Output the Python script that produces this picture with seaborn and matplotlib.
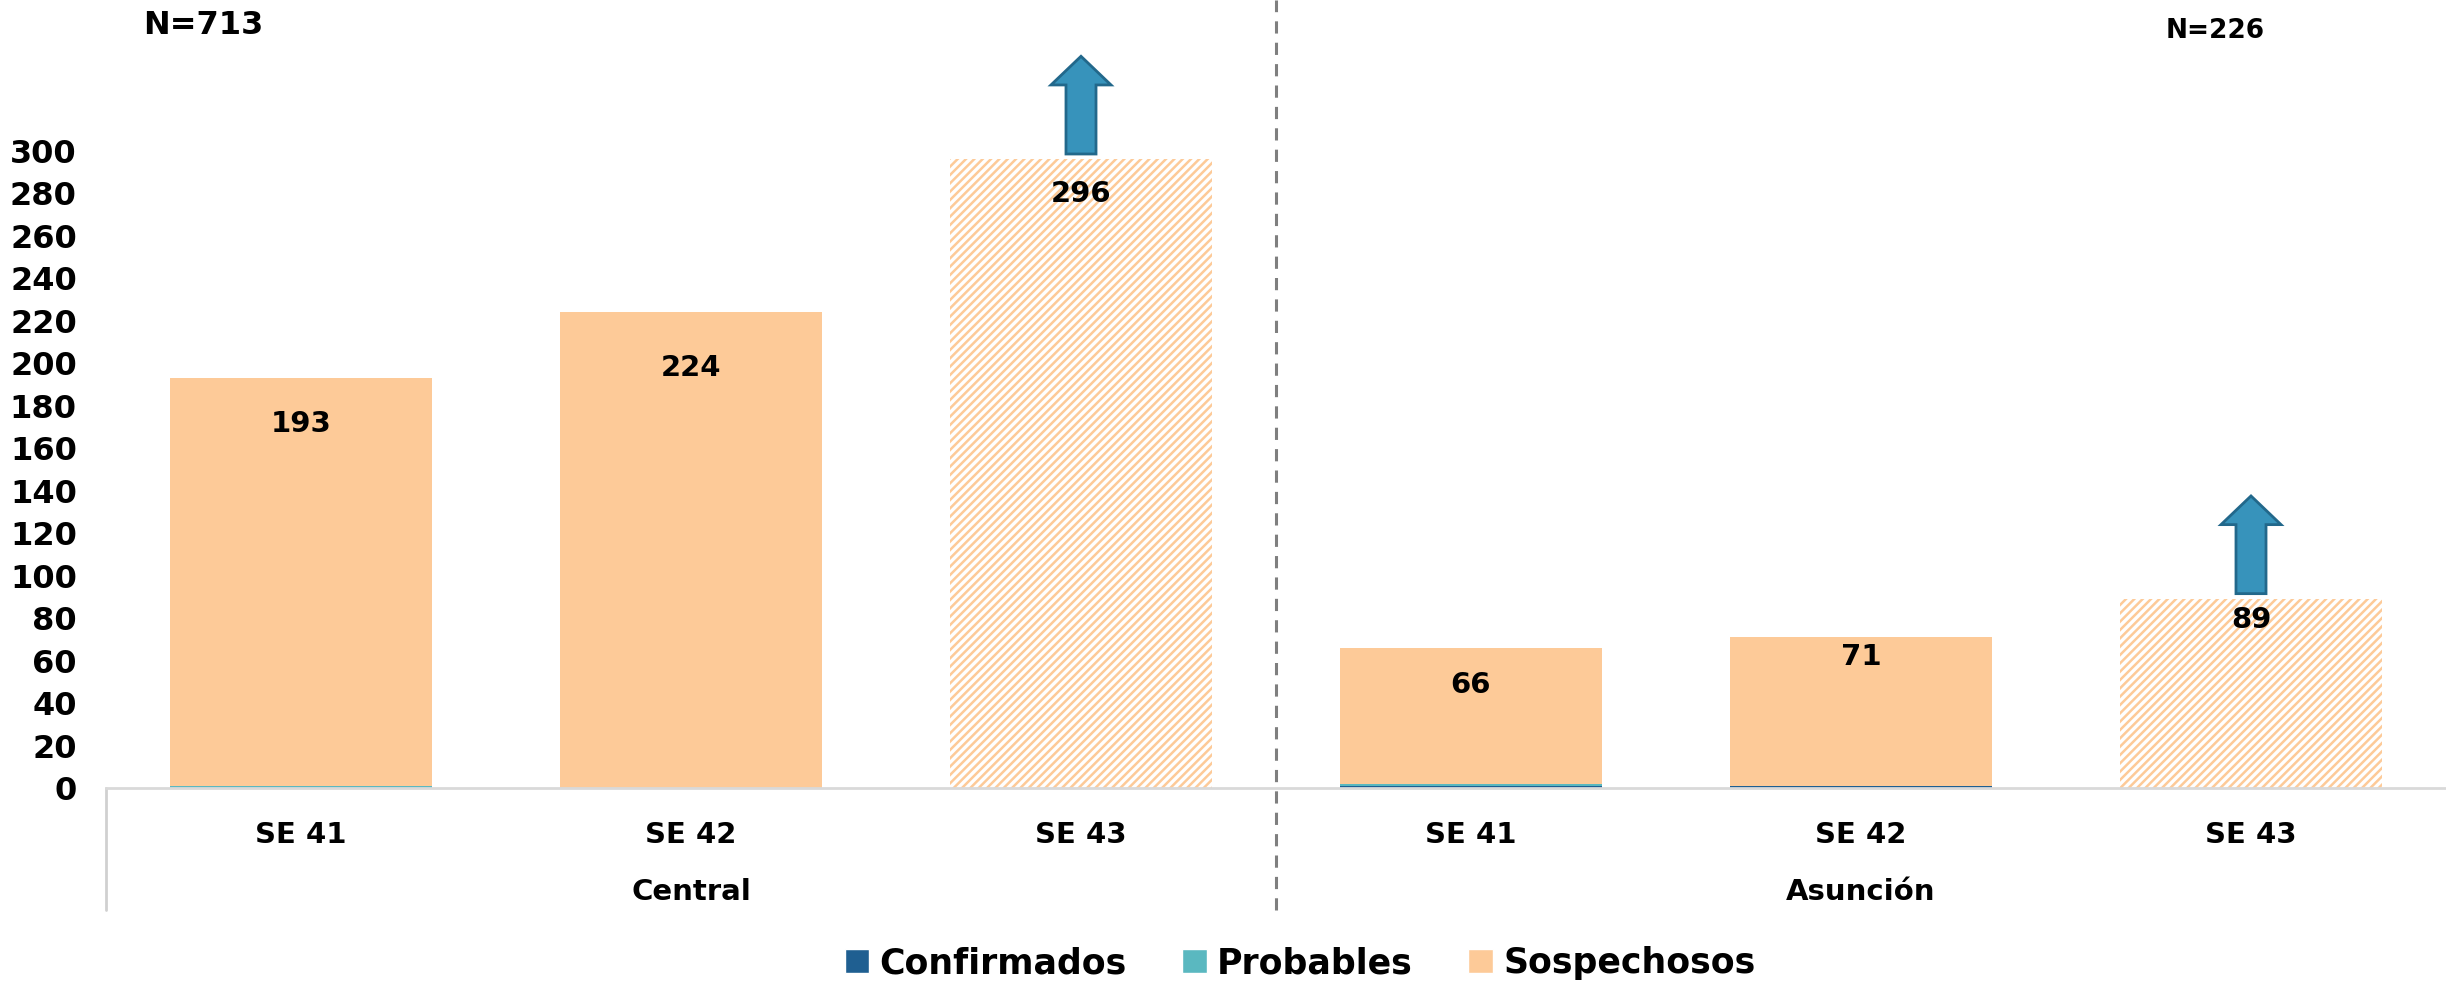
import numpy as np
import pandas as pd
import matplotlib
matplotlib.use('Agg')
import matplotlib.pyplot as plt
import seaborn as sns
from matplotlib.patches import Patch, FancyArrow
from matplotlib.transforms import blended_transform_factory

# Daten
grupos = ['Central', 'Central', 'Central', 'Asunción', 'Asunción', 'Asunción']
semanas = ['SE 41', 'SE 42', 'SE 43', 'SE 41', 'SE 42', 'SE 43']
confirmados = [0, 0, 0, 1, 1, 0]
probables = [1, 0, 0, 1, 0, 0]
sospechosos = [192, 224, 296, 64, 70, 89]
totales_n = {'Central': 713, 'Asunción': 226}
y_ticks = list(range(0, 301, 20))

df = pd.DataFrame({'grupo': grupos, 'semana': semanas,
                   'conf': confirmados, 'prob': probables, 'sosp': sospechosos})
df['key'] = df['grupo'] + ' ' + df['semana']
df['total'] = df['conf'] + df['prob'] + df['sosp']
df['conf_prob'] = df['conf'] + df['prob']
orden = list(df['key'])

c_conf = '#1f5f91'
c_prob = '#5ab8c0'
c_sosp = '#fdca98'
c_arrow = '#3793bb'
c_arrow_edge = '#22688b'

# Abstand der Werte-Labels unter der Balkenoberkante (Punkte), wie im Original
label_pad = [33, 40, 25, 27, 14, 15]

sns.set_style('white')
plt.rcParams['font.family'] = ['DejaVu Sans']
plt.rcParams['font.weight'] = 'bold'
plt.rcParams['hatch.linewidth'] = 1.8
for k in ['text.color', 'axes.labelcolor', 'xtick.color', 'ytick.color']:
    plt.rcParams[k] = 'black'

fig = plt.figure(figsize=(24.46, 9.85), dpi=100)
ax = fig.add_axes([106 / 2446, 0.2, 2340 / 2446, 0.8])

# gestapelte Balken: zuerst Gesamt, dann darunterliegende Anteile
sns.barplot(data=df, x='key', y='total', order=orden, color=c_sosp,
            width=0.67, saturation=1, errorbar=None, ax=ax)
bars_total = ax.containers[-1]
sns.barplot(data=df, x='key', y='conf_prob', order=orden, color=c_prob,
            width=0.67, saturation=1, errorbar=None, ax=ax)
sns.barplot(data=df, x='key', y='conf', order=orden, color=c_conf,
            width=0.67, saturation=1, errorbar=None, ax=ax)

for p in ax.patches:
    p.set_linewidth(0)

# SE 43 schraffiert (unvollständige Woche)
for bar, sem in zip(bars_total, df['semana']):
    if sem == 'SE 43':
        bar.set_facecolor('white')
        bar.set_edgecolor(c_sosp)
        bar.set_hatch('////')
        bar.set_linewidth(0)

ax.set_xlim(-0.5, 5.5)
ax.set_ylim(0, 371)
ax.set_yticks(y_ticks)
ax.set_xticks(range(len(orden)))
ax.set_xticklabels(df['semana'])
ax.tick_params(axis='y', length=0, pad=21, labelsize=23, labelcolor='black')
ax.tick_params(axis='x', length=0, pad=24, labelsize=21, labelcolor='black')
for lab in ax.get_xticklabels() + ax.get_yticklabels():
    lab.set_fontweight('bold')
ax.set_xlabel('')
ax.set_ylabel('')
for s in ['left', 'right', 'top']:
    ax.spines[s].set_visible(False)
ax.spines['bottom'].set_color('#d9d9d9')
ax.spines['bottom'].set_linewidth(2)

# Werte-Labels
for i, tot in enumerate(df['total']):
    ax.annotate(str(tot), xy=(i, tot), xytext=(0, -label_pad[i]), textcoords='offset points',
                ha='center', va='center', fontsize=21, fontweight='bold', color='black')

# Pfeile bei SE 43
for i, (sem, tot) in enumerate(zip(df['semana'], df['total'])):
    if sem == 'SE 43':
        arr = FancyArrow(i, tot + 2.5, 0, 46, width=0.077, head_width=0.154,
                         head_length=13.5, length_includes_head=True,
                         facecolor=c_arrow, edgecolor=c_arrow_edge, linewidth=2,
                         zorder=5)
        ax.add_patch(arr)

# Trennlinien und Gruppen-Labels
ax.plot([-0.5, -0.5], [-57.5, 0], color='#d0d0d0', lw=2, clip_on=False)
ax.plot([2.5, 2.5], [-57.5, 371], color='#7f7f7f', lw=2.2, ls=(0, (4, 3)), clip_on=False)
trans = blended_transform_factory(ax.transData, fig.transFigure)
ax.text(1, (985 - 892) / 985, 'Central', transform=trans, ha='center', va='center',
        fontsize=21, fontweight='bold', color='black')
ax.text(4, (985 - 892) / 985, 'Asunción', transform=trans, ha='center', va='center',
        fontsize=21, fontweight='bold', color='black')

fig.text(203 / 2446, 1 - 25 / 985, f"N={totales_n['Central']}", ha='center', va='center',
         fontsize=23, fontweight='bold', color='black')
fig.text(2215 / 2446, 1 - 31 / 985, f"N={totales_n['Asunción']}", ha='center', va='center',
         fontsize=19, fontweight='bold', color='black')

# Legende
handles = [Patch(facecolor=c_conf, label='Confirmados'),
           Patch(facecolor=c_prob, label='Probables'),
           Patch(facecolor=c_sosp, label='Sospechosos')]
leg = fig.legend(handles=handles, loc='center', bbox_to_anchor=(1300 / 2446, 22 / 985),
                 ncol=3, frameon=False, prop={'size': 25, 'weight': 'bold'},
                 handlelength=0.7, handleheight=0.7, handletextpad=0.3, columnspacing=1.6)
for t in leg.get_texts():
    t.set_color('black')

fig.savefig('out.png', dpi=100)
